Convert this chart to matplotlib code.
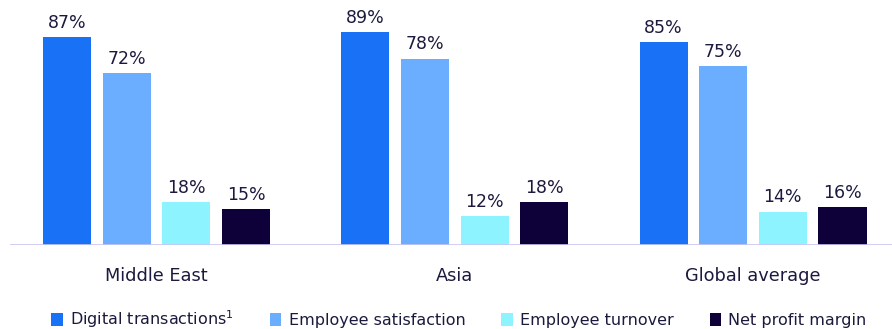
import matplotlib.pyplot as plt
import numpy as np
from matplotlib.patches import Patch

plt.rcParams['font.family'] = ['DejaVu Sans']

regions = ['Middle East', 'Asia', 'Global average']
series = ['Digital transactions$^1$', 'Employee satisfaction',
          'Employee turnover', 'Net profit margin']
digital = [87, 89, 85]
satisfaction = [72, 78, 75]
turnover = [18, 12, 14]
profit = [15, 18, 16]

colors = ['#1972F5', '#6BADFF', '#8DF3FF', '#0E0039']
text_color = '#1B1A3E'

W, H = 892, 329
fig = plt.figure(figsize=(W / 100, H / 100), dpi=100)
# axes in pixel coordinates: baseline at y=245, 2.39 px per %
ax = fig.add_axes([10 / W, 84 / H, 882 / W, 239 / H])

x = np.arange(len(regions))
offsets = [-0.3, -0.1, 0.1, 0.3]
width = 0.161
for vals, off, col in zip([digital, satisfaction, turnover, profit], offsets, colors):
    bars = ax.bar(x + off, vals, width, color=col, zorder=2)
    for b, v in zip(bars, vals):
        ax.text(b.get_x() + b.get_width() / 2, v + 3.8, f'{v}%', ha='center',
                va='baseline', fontsize=12.5, color=text_color)

ax.set_xlim(-0.4916, 2.466)
ax.set_ylim(0, 100)
ax.axhline(0, color='#C9C6F0', lw=1.2, zorder=3)
for s in ax.spines.values():
    s.set_visible(False)
ax.set_xticks([])
ax.set_yticks([])

for xi, name in zip(x, regions):
    ax.text(xi, -15, name, ha='center', va='baseline', fontsize=12.8,
            color=text_color)

handles = [Patch(facecolor=c, edgecolor='none') for c in colors]
fig.legend(handles, series, loc='center', bbox_to_anchor=(459 / W, 10 / H),
           ncol=4, frameon=False, fontsize=11.5, handlelength=0.72,
           handleheight=0.9, handletextpad=0.45, columnspacing=2.25,
           labelcolor=text_color, borderpad=0.1)

fig.savefig('out.png', dpi=100)
